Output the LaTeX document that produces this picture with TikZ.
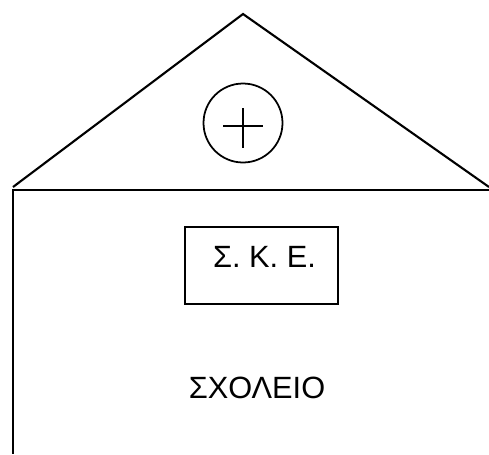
\documentclass[tikz,border=0pt]{standalone}
\usepackage{fontspec}
\setmainfont{Liberation Sans}
\usetikzlibrary{positioning}
\begin{document}
\begin{tikzpicture}[x=0.02cm, y=-0.02cm,
        wall/.style={draw=black, line width=1.2pt, line join=miter},
        cross/.style={circle, draw=black, line width=1pt,
          minimum size=1.58cm, inner sep=0pt},
        skebox/.style={rectangle, draw=black, line width=1.2pt,
          minimum width=3.06cm, minimum height=1.54cm, inner sep=0pt},
        lab/.style={font=\fontsize{17.5}{20}\selectfont, inner sep=0pt}
      ]
      \useasboundingbox (0,0) rectangle (489,454);
      % roof and walls
      \coordinate (top)   at (243, 14);
      \coordinate (eaveL) at (13, 187);
      \coordinate (eaveR) at (489, 187);
      \coordinate (baseL) at (13, 190);
      \coordinate (baseR) at (489, 190);
      \coordinate (foot)  at (13, 454);
      \draw[wall] (eaveL) -- (top) -- (eaveR);
      \draw[wall] (baseR) -- (baseL) -- (foot);
      % cross in the gable
      \node[cross] (cr) at (243, 123) {};
      \draw[line width=1pt] ([xshift=-0.4cm,yshift=-0.06cm]cr.center) -- ([xshift=0.4cm,yshift=-0.06cm]cr.center);
      \draw[line width=1pt] ([yshift=0.3cm]cr.center) -- ([yshift=-0.5cm]cr.center);
      % sign and name
      \node[skebox] (ske) at (261.5, 265.5) {};
      \node[lab, below=0.4cm of ske.north, xshift=0.06cm] (skelab) {Σ. Κ. Ε.};
      \node[lab] (school) at (257, 388) {ΣΧΟΛΕΙΟ};
    \end{tikzpicture}
\end{document}
